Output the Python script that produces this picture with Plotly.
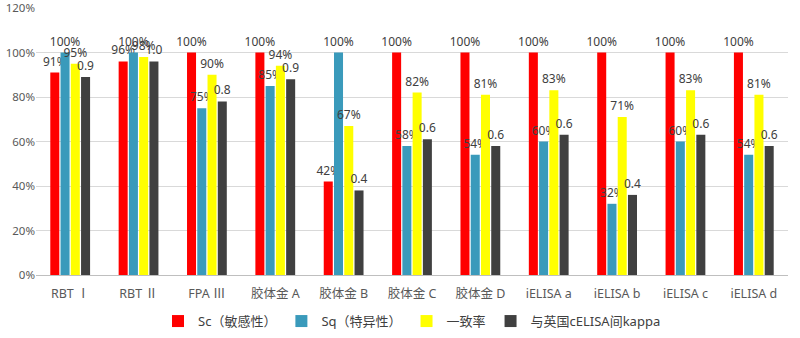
import plotly.graph_objects as go

categories = ["RBT Ⅰ", "RBT Ⅱ", "FPA Ⅲ", "胶体金 A", "胶体金 B", "胶体金 C",
              "胶体金 D", "iELISA a", "iELISA b", "iELISA c", "iELISA d"]
sc = [0.91, 0.96, 1.00, 1.00, 0.42, 1.00, 1.00, 1.00, 1.00, 1.00, 1.00]
sq = [1.00, 1.00, 0.75, 0.85, 1.00, 0.58, 0.54, 0.60, 0.32, 0.60, 0.54]
agree = [0.95, 0.98, 0.90, 0.94, 0.67, 0.82, 0.81, 0.83, 0.71, 0.83, 0.81]
kappa = [0.89, 0.96, 0.78, 0.88, 0.38, 0.61, 0.58, 0.63, 0.36, 0.63, 0.58]

series = [
    ("Sc（敏感性）", sc, "#FF0000", "%{y:.0%}"),
    ("Sq（特异性）", sq, "#3A9ABB", "%{y:.0%}"),
    ("一致率", agree, "#FFFF00", "%{y:.0%}"),
    ("与英国cELISA间kappa", kappa, "#404040", "%{y:.1f}"),
]

font_family = "Noto Sans, Noto Sans CJK SC, sans-serif"
fig = go.Figure()
for name, vals, color, tmpl in series:
    fig.add_trace(go.Bar(
        x=categories, y=vals, name=name, marker_color=color,
        marker_line_width=0,
        texttemplate=tmpl, textposition="outside", constraintext="none",
        cliponaxis=False,
        textfont=dict(size=12, color="#404040", family=font_family),
    ))

fig.update_layout(
    width=800, height=338,
    margin=dict(l=36, r=12, t=8, b=63, autoexpand=False),
    paper_bgcolor="white", plot_bgcolor="white",
    barmode="group", bargap=0.4, bargroupgap=0.12,
    font=dict(family=font_family, color="#595959", size=12),
    showlegend=True,
    legend=dict(orientation="h", x=0.5, xanchor="center",
                yref="container", y=0.05, yanchor="middle",
                font=dict(size=13, color="#404040"), itemwidth=30,
                traceorder="normal"),
    xaxis=dict(range=[-0.5, 10.5], showgrid=False, showline=False,
               ticks="", ticklabelstandoff=9,
               tickfont=dict(size=12.5, color="#595959")),
    yaxis=dict(range=[0, 1.2], tickvals=[0, 0.2, 0.4, 0.6, 0.8, 1.0, 1.2],
               tickformat=".0%", showgrid=True, gridcolor="#D9D9D9",
               gridwidth=1, zeroline=True, zerolinecolor="#BFBFBF",
               zerolinewidth=1, showline=False, ticks="",
               tickfont=dict(size=11.5, color="#595959")),
)

fig.write_html("out.html")
